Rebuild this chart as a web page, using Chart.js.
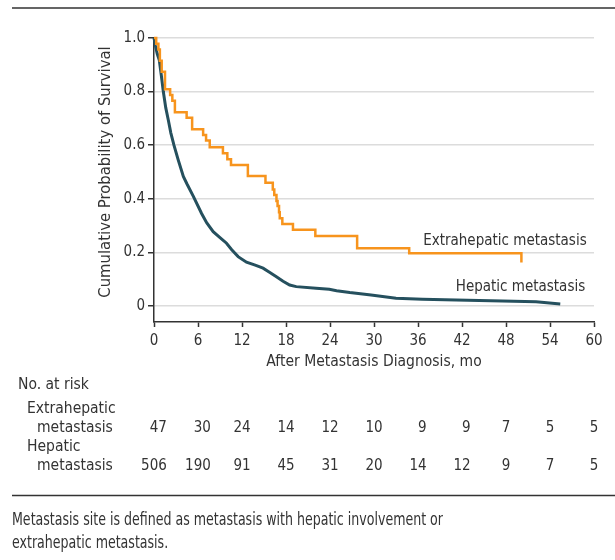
<!DOCTYPE html>
<html>
<head>
<meta charset="utf-8">
<title>Survival by metastasis site</title>
<script src="https://cdn.jsdelivr.net/npm/chart.js@4/dist/chart.umd.min.js"></script>
<style>
  html, body { margin: 0; padding: 0; background: #fff; }
  #km { display: block; }
</style>
</head>
<body>
<canvas id="km" width="615" height="560"></canvas>
<script>
// Kaplan-Meier estimates (months, survival probability)
const extraTimes = [0, 0.3, 0.6, 0.8, 1.05, 1.5, 2.2, 2.5, 2.85, 4.45, 5.2, 6.7, 7.1, 7.6, 9.4, 10.0, 10.5,
    12.8, 15.2, 16.2, 16.4, 16.7, 16.85, 17.05, 17.15, 17.5, 18.95, 22.0, 27.7, 34.8, 50.1];
const extraSurv = [1, 0.979, 0.957, 0.915, 0.874, 0.809, 0.787, 0.766, 0.723, 0.702, 0.659, 0.638, 0.617, 0.592, 0.570, 0.547, 0.526,
    0.485, 0.460, 0.435, 0.414, 0.392, 0.373, 0.350, 0.327, 0.306, 0.284, 0.261, 0.215, 0.197, 0.162];

const hepTimes = [0, 0.2, 0.45, 0.72, 1.0, 1.27, 1.6, 1.95, 2.3, 2.72, 3.3, 4.0, 4.5, 5.35, 6.49, 7.2, 8.07, 9.0,
    9.89, 10.6, 11.47, 12.61, 13.8, 14.87, 15.8, 16.69, 17.6, 18.5, 19.4, 22.1, 23.9, 24.9, 26.7, 29.6,
    33.0, 36.6, 41.2, 47.5, 52.1, 55.4];
const hepSurv = [1, 0.97, 0.94, 0.918, 0.86, 0.8, 0.74, 0.694, 0.645, 0.6, 0.545, 0.483, 0.455, 0.41, 0.345, 0.31, 0.277, 0.255,
    0.234, 0.21, 0.184, 0.163, 0.152, 0.141, 0.125, 0.109, 0.092, 0.078, 0.072, 0.066, 0.062, 0.057, 0.050, 0.041,
    0.029, 0.025, 0.022, 0.018, 0.016, 0.0075];

// axis ticks
const monthTicks = [0, 6, 12, 18, 24, 30, 36, 42, 48, 54, 60];
const survTicks = [0, 0.2, 0.4, 0.6, 0.8, 1.0];

// number at risk, one value per month tick
const riskExtra = [47, 30, 24, 14, 12, 10, 9, 9, 7, 5, 5];
const riskHep = [506, 190, 91, 45, 31, 20, 14, 12, 9, 7, 5];

const ORANGE = '#f7941d';
const TEAL = '#25505e';
const INK = '#333333';
const FONT = '"Liberation Sans Narrow", "DejaVu Sans Condensed", "Noto Sans", sans-serif';

function toPoints(xs, ys) {
    return xs.map((t, i) => ({ x: t, y: ys[i] }));
}

// draws the framing rules, y title, curve labels, risk table and footnote
const annotations = {
    id: 'annotations',
    afterDraw(chart) {
        const { ctx, scales: { x, y } } = chart;
        ctx.save();
        ctx.fillStyle = INK;
        ctx.strokeStyle = INK;

        // horizontal rules
        ctx.lineWidth = 1.5;
        ctx.beginPath();
        ctx.moveTo(12, 8); ctx.lineTo(615, 8);
        ctx.moveTo(12, 495.5); ctx.lineTo(615, 495.5);
        ctx.stroke();

        // y axis title
        ctx.save();
        ctx.translate(106, y.getPixelForValue(0.5));
        ctx.rotate(-Math.PI / 2);
        ctx.font = '16.5px ' + FONT;
        ctx.textAlign = 'center';
        ctx.textBaseline = 'middle';
        ctx.fillText('Cumulative Probability of Survival', 0, 0);
        ctx.restore();

        // curve labels
        ctx.font = '15px ' + FONT;
        ctx.textBaseline = 'middle';
        ctx.textAlign = 'right';
        ctx.fillText('Extrahepatic metastasis', x.getPixelForValue(59.0), y.getPixelForValue(0.243));
        ctx.fillText('Hepatic metastasis', x.getPixelForValue(58.8), y.getPixelForValue(0.071));

        // number at risk
        ctx.font = '15.5px ' + FONT;
        ctx.textAlign = 'left';
        ctx.fillText('No. at risk', 18, 385);
        ctx.fillText('Extrahepatic', 27, 409);
        ctx.fillText('metastasis', 37, 428);
        ctx.fillText('Hepatic', 27, 447);
        ctx.fillText('metastasis', 37, 466);

        ctx.font = '15px ' + FONT;
        ctx.textAlign = 'right';
        monthTicks.forEach((m, i) => {
            const a = String(riskExtra[i]);
            const b = String(riskHep[i]);
            const w = Math.max(ctx.measureText(a).width, ctx.measureText(b).width);
            const right = x.getPixelForValue(m) + w / 2;
            ctx.fillText(a, right, 428);
            ctx.fillText(b, right, 466);
        });

        // footnote, squeezed to the width of the original condensed face
        const note1 = 'Metastasis site is defined as metastasis with hepatic involvement or';
        const note2 = 'extrahepatic metastasis.';
        ctx.font = '17px ' + FONT;
        ctx.textAlign = 'left';
        ctx.textBaseline = 'alphabetic';
        const squeeze = Math.min(1, 431 / ctx.measureText(note1).width);
        ctx.fillText(note1, 12, 525, ctx.measureText(note1).width * squeeze);
        ctx.fillText(note2, 12, 548, ctx.measureText(note2).width * squeeze);
        ctx.restore();
    }
};

const ctx = document.getElementById('km').getContext('2d');

new Chart(ctx, {
    type: 'line',
    data: {
        datasets: [
            {
                label: 'Extrahepatic metastasis',
                data: toPoints(extraTimes, extraSurv),
                borderColor: ORANGE,
                borderWidth: 2.5,
                stepped: true,
                pointRadius: 0,
                fill: false,
                clip: 6
            },
            {
                label: 'Hepatic metastasis',
                data: toPoints(hepTimes, hepSurv),
                borderColor: TEAL,
                borderWidth: 3,
                tension: 0,
                pointRadius: 0,
                fill: false,
                clip: 6
            }
        ]
    },
    options: {
        responsive: false,
        devicePixelRatio: 1,
        animation: false,
        layout: { padding: { top: 38, right: 21, bottom: 189, left: 0 } },
        plugins: {
            legend: { display: false },
            tooltip: { enabled: false }
        },
        scales: {
            x: {
                type: 'linear',
                min: 0,
                max: 60,
                afterFit: s => { s.height = 49; },
                afterBuildTicks: s => { s.ticks = monthTicks.map(v => ({ value: v })); },
                grid: { drawOnChartArea: false, drawTicks: true, tickLength: 5, tickColor: INK, tickWidth: 1.5 },
                border: { color: INK, width: 1.5 },
                ticks: { color: INK, padding: 5, maxRotation: 0, font: { family: FONT, size: 15 } },
                title: {
                    display: true,
                    text: 'After Metastasis Diagnosis, mo',
                    color: INK,
                    padding: 0,
                    font: { family: FONT, size: 15.5 }
                }
            },
            y: {
                min: -0.06,
                max: 1.0,
                afterFit: s => { s.width = 154; },
                afterBuildTicks: s => { s.ticks = survTicks.map(v => ({ value: v })); },
                grid: { color: '#dcdcdc', lineWidth: 1.5, tickColor: INK, tickLength: 6, tickWidth: 1.5 },
                border: { color: INK, width: 1.5 },
                ticks: {
                    color: INK,
                    padding: 3,
                    font: { family: FONT, size: 15 },
                    callback: v => (v === 0 ? '0' : v.toFixed(1))
                }
            }
        }
    },
    plugins: [annotations]
});
</script>
</body>
</html>
